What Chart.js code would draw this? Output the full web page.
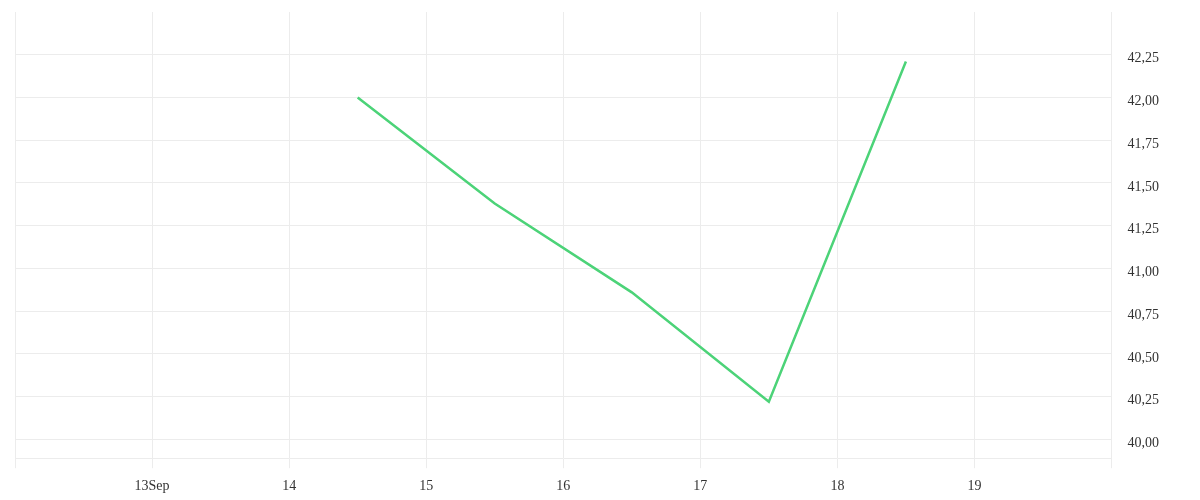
<!DOCTYPE html>
<html>
<head>
<meta charset="utf-8">
<script src="https://cdn.jsdelivr.net/npm/chart.js@4/dist/chart.umd.min.js"></script>
<style>
    html, body { margin: 0; padding: 0; background: #fff; }
    #wrap { width: 1200px; height: 500px; }
</style>
</head>
<body>
<div id="wrap"><canvas id="myChart"></canvas></div>
<script>
// days of September (noon of each day)
var days = [14.5, 15.5, 16.5, 17.5, 18.5];
var prices = [42.00, 41.38, 40.86, 40.22, 42.21];
var dayTicks = [13, 14, 15, 16, 17, 18, 19];
var monthLabel = 'Sep';

var gridColor = '#ececec';

var points = [];
days.forEach((d, i) => {
    points.push({ x: d, y: prices[i] });
});

var ctx = document.getElementById('myChart');

var myChart = new Chart(ctx, {
    type: 'line',
    data: {
        datasets: [{
            data: points,
            borderColor: '#4cd378',
            borderWidth: 2.5,
            pointRadius: 0,
            tension: 0,
            fill: false
        }]
    },
    options: {
        responsive: true,
        maintainAspectRatio: false,
        animation: false,
        layout: { padding: { left: 15, top: 12, right: 25, bottom: -5 } },
        plugins: { legend: { display: false }, tooltip: { enabled: false } },
        scales: {
            x: {
                type: 'linear',
                min: 12,
                max: 20,
                ticks: {
                    stepSize: 1,
                    autoSkip: false,
                    maxRotation: 0,
                    color: '#333',
                    font: { family: 'Liberation Serif', size: 14 },
                    padding: 10,
                    callback: function (v) {
                        if (dayTicks.indexOf(v) < 0) return '';
                        return v === dayTicks[0] ? v + monthLabel : '' + v;
                    }
                },
                grid: { color: gridColor, tickLength: 10, tickColor: gridColor },
                border: { color: gridColor }
            },
            y: {
                position: 'right',
                min: 39.89,
                max: 42.5,
                afterBuildTicks: function (axis) {
                    // keep only the quarter steps, drop the min/max added by chart.js
                    axis.ticks = axis.ticks.filter(t => Math.abs(t.value * 4 - Math.round(t.value * 4)) < 1e-6 && t.value < 42.4);
                },
                afterFit: function (axis) {
                    // top label is far from the edge, no need for the extra room
                    axis.paddingTop = 0;
                },
                ticks: {
                    stepSize: 0.25,
                    color: '#333',
                    padding: 16,
                    labelOffset: 4,
                    font: { family: 'Liberation Serif', size: 14 },
                    callback: function (v) {
                        return v.toFixed(2).replace('.', ',');
                    }
                },
                grid: { color: gridColor, drawTicks: false },
                border: { color: gridColor }
            }
        }
    }
});
</script>
</body>
</html>
